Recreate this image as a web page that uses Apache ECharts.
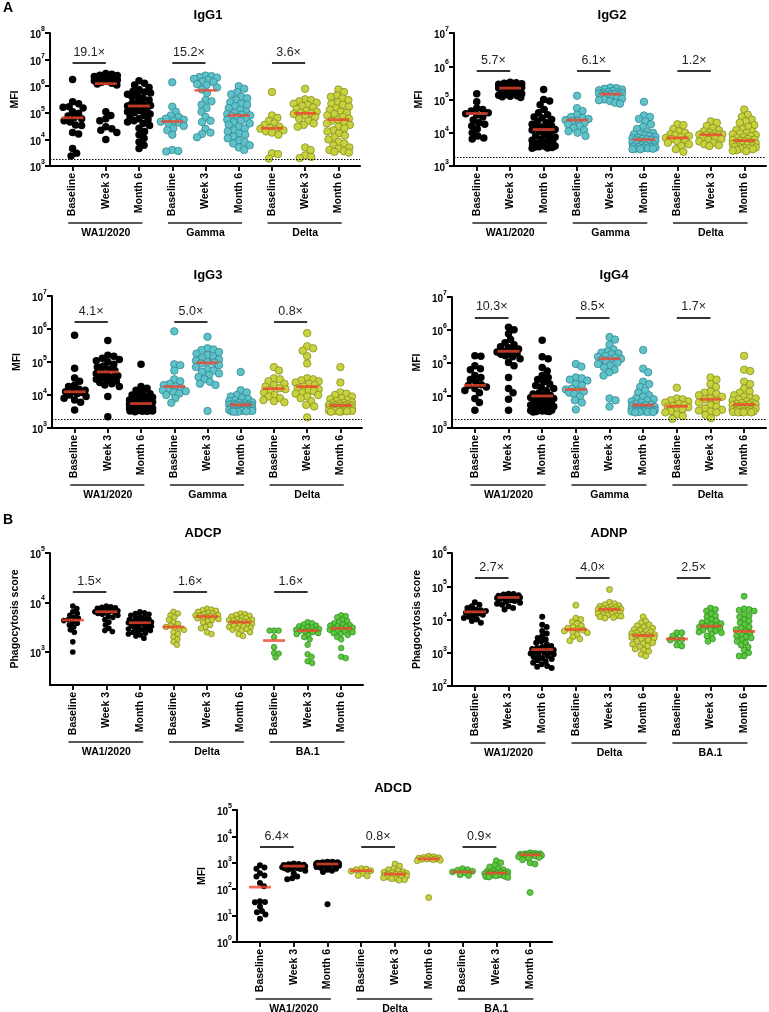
<!DOCTYPE html>
<html><head><meta charset="utf-8">
<script src="https://cdn.jsdelivr.net/npm/echarts@6/dist/echarts.min.js"></script>
<style>html,body{margin:0;padding:0;background:#fff}#c{width:769px;height:1012px}</style>
</head><body><div id="c"></div>
<script>
// ---------- categories ----------
const timepoints = ['Baseline', 'Week 3', 'Month 6'];
const igVariants = ['WA1/2020', 'Gamma', 'Delta'];
const fnVariants = ['WA1/2020', 'Delta', 'BA.1'];

// ---------- IgG1 ----------
const IgG1_WA1 = [
  [1.8e6, 2.6e5, 2.2e5, 1.7e5, 1.6e5, 1.5e5, 1.1e5, 9.5e4, 7.5e4, 6.5e4, 6e4, 5e4, 4.5e4, 3.5e4, 3.3e4, 1.8e4, 1.6e4, 4.5e3, 3e3, 2.4e3],
  [3e6, 2.8e6, 2.6e6, 2.5e6, 2.3e6, 2.2e6, 2e6, 1.9e6, 1.8e6, 1.7e6, 1.6e6, 1.5e6, 1.4e6, 1.3e6, 1.2e6, 1.1e6, 1.1e5, 8e4, 6e4, 5e4, 3e4, 2.5e4, 2.2e4, 1.8e4, 1e4],
  [1.6e6, 1.3e6, 1.1e6, 9e5, 7.5e5, 6.5e5, 6e5, 5.5e5, 5e5, 4.5e5, 4e5, 3.5e5, 3e5, 2.6e5, 2.3e5, 2e5, 1.9e5, 1.8e5, 1.7e5, 1.6e5, 1.4e5, 1.2e5, 1.1e5, 1e5, 9e4, 8e4, 7e4, 6e4, 5.5e4, 5e4, 4.5e4, 4e4, 3.3e4, 2.6e4, 2e4, 1.5e4, 1.1e4, 8e3, 6e3, 4.5e3]
];
const IgG1_Gamma = [
  [1.4e6, 1.7e5, 1.1e5, 8e4, 7e4, 6e4, 5.5e4, 5e4, 4.6e4, 4.2e4, 3.8e4, 3.2e4, 2.6e4, 2.2e4, 1.5e4, 4e3, 3.7e3, 3.5e3],
  [2.5e6, 2.4e6, 2.2e6, 2.1e6, 1.9e6, 1.7e6, 1.5e6, 1.4e6, 1.2e6, 1.1e6, 9e5, 7.5e5, 5.5e5, 3e5, 2.7e5, 2e5, 1.5e5, 1.1e5, 7e4, 5e4, 4.5e4, 2.5e4, 1.8e4, 1.6e4, 1.2e4],
  [1e6, 8e5, 6e5, 5e5, 4e5, 3.5e5, 3e5, 2.5e5, 2.2e5, 2e5, 1.8e5, 1.5e5, 1.3e5, 1.1e5, 1e5, 9e4, 8.5e4, 8e4, 7.5e4, 7e4, 6e4, 5.5e4, 5e4, 4.5e4, 4e4, 3.5e4, 3e4, 2.6e4, 2.2e4, 2e4, 1.7e4, 1.5e4, 1.3e4, 1.1e4, 9e3, 8e3, 7e3, 6e3, 5e3, 4e3]
];
const IgG1_Delta = [
  [6e5, 8e4, 6.5e4, 5e4, 4e4, 3.5e4, 3e4, 2.7e4, 2.5e4, 2.4e4, 2.2e4, 2e4, 1.8e4, 1.5e4, 3e3, 2.8e3, 1.9e3],
  [8e5, 3.2e5, 3e5, 2.7e5, 2.4e5, 2.2e5, 2e5, 1.8e5, 1.6e5, 1.4e5, 1.2e5, 1.1e5, 1e5, 9.5e4, 9e4, 8e4, 7e4, 6e4, 5e4, 4e4, 3.5e4, 3e4, 5e3, 4e3, 2.5e3, 2.2e3, 2e3],
  [7.5e5, 6e5, 4.5e5, 4e5, 3.5e5, 3e5, 2.5e5, 2.2e5, 2e5, 1.7e5, 1.5e5, 1.3e5, 1.1e5, 1e5, 9e4, 8e4, 7e4, 6e4, 5.5e4, 5e4, 4.5e4, 4e4, 3.5e4, 3e4, 2.6e4, 2.2e4, 2e4, 1.7e4, 1.4e4, 1.2e4, 1e4, 8e3, 7e3, 6e3, 5e3, 4.5e3, 4e3, 3.6e3, 3.4e3, 3.2e3]
];
const IgG1_median = [6.5e4, 1.25e6, 1.8e5, 4.7e4, 7e5, 8e4, 2.6e4, 9.5e4, 5.5e4];
const IgG1_fold = ['19.1×', '15.2×', '3.6×'];

// ---------- IgG2 ----------
const IgG2_WA1 = [
  [1.5e5, 8.5e4, 5.5e4, 5e4, 4.5e4, 4e4, 3.7e4, 3.4e4, 3e4, 2.4e4, 2e4, 1.8e4, 1.6e4, 1.3e4, 1e4, 8e3, 7e3, 6.5e3],
  [3.3e5, 3.2e5, 3.1e5, 3e5, 2.9e5, 2.7e5, 2.6e5, 2.5e5, 2.4e5, 2.3e5, 2.2e5, 2.2e5, 2.1e5, 2e5, 1.9e5, 1.8e5, 1.7e5, 1.6e5, 1.5e5, 1.4e5, 1.35e5, 1.3e5, 1.25e5, 1.2e5, 1.15e5],
  [2e5, 1e5, 9e4, 7e4, 5e4, 4e4, 3.5e4, 3e4, 2.8e4, 2.5e4, 2.2e4, 2e4, 1.8e4, 1.6e4, 1.5e4, 1.4e4, 1.3e4, 1.25e4, 1.2e4, 1.1e4, 1e4, 9e3, 8e3, 7.5e3, 7e3, 6.5e3, 6e3, 5.5e3, 5e3, 4.8e3, 4.6e3, 4.4e3, 4.2e3, 4e3, 3.9e3, 3.8e3, 3.7e3, 3.6e3, 3.5e3, 3.4e3]
];
const IgG2_Gamma = [
  [1.3e5, 5.5e4, 4.5e4, 3.5e4, 3e4, 2.8e4, 2.6e4, 2.4e4, 2.3e4, 2.2e4, 2e4, 1.8e4, 1.6e4, 1.4e4, 1.2e4, 1.1e4, 1e4, 8e3],
  [2.3e5, 2.2e5, 2.1e5, 2e5, 1.9e5, 1.8e5, 1.7e5, 1.65e5, 1.6e5, 1.55e5, 1.5e5, 1.45e5, 1.45e5, 1.4e5, 1.35e5, 1.3e5, 1.25e5, 1.2e5, 1.1e5, 1.05e5, 1e5, 9.5e4, 9e4, 8e4, 7.5e4],
  [8.5e4, 3.3e4, 3e4, 2.6e4, 2.2e4, 1.8e4, 1.5e4, 1.3e4, 1.1e4, 1e4, 9.5e3, 9e3, 8.5e3, 8e3, 7.5e3, 7e3, 6.8e3, 6.5e3, 6.3e3, 6.2e3, 6e3, 5.8e3, 5.5e3, 5.2e3, 5e3, 4.8e3, 4.6e3, 4.4e3, 4.2e3, 4e3, 3.9e3, 3.8e3, 3.7e3, 3.6e3, 3.5e3, 3.4e3, 3.3e3, 3.3e3, 3.2e3, 3.2e3]
];
const IgG2_Delta = [
  [1.8e4, 1.7e4, 1.3e4, 1.1e4, 1e4, 9e3, 8.5e3, 8e3, 7.5e3, 7e3, 6.5e3, 6e3, 5.5e3, 5e3, 4.5e3, 4e3, 3.2e3, 2.7e3],
  [2.2e4, 2e4, 1.6e4, 1.4e4, 1.2e4, 1.1e4, 1e4, 9.5e3, 9e3, 8.8e3, 8.6e3, 8.5e3, 8e3, 7.5e3, 7e3, 6.5e3, 6e3, 5.5e3, 5e3, 4.5e3, 4.2e3, 4e3],
  [5e4, 3.5e4, 3e4, 2.5e4, 2.2e4, 2e4, 1.7e4, 1.5e4, 1.3e4, 1.2e4, 1.1e4, 1e4, 9.5e3, 9e3, 8.5e3, 8e3, 7.5e3, 7e3, 6.5e3, 6.2e3, 6e3, 5.8e3, 5.5e3, 5.2e3, 5e3, 4.8e3, 4.6e3, 4.4e3, 4.2e3, 4e3, 3.9e3, 3.8e3, 3.6e3, 3.5e3, 3.4e3, 3.3e3, 3.2e3, 3e3, 2.9e3, 2.8e3]
];
const IgG2_median = [3.8e4, 2.2e5, 1.25e4, 2.4e4, 1.45e5, 6.2e3, 7e3, 8.7e3, 5.8e3];
const IgG2_fold = ['5.7×', '6.1×', '1.2×'];

// ---------- IgG3 ----------
const IgG3_WA1 = [
  [6.5e5, 6.5e4, 3.3e4, 2.6e4, 2e4, 1.8e4, 1.5e4, 1.4e4, 1.3e4, 1.25e4, 1.2e4, 1.1e4, 1e4, 9e3, 8e3, 7e3, 6e3, 3.5e3],
  [4.5e5, 1.6e5, 1.5e5, 1.3e5, 1.2e5, 1.1e5, 1e5, 8.5e4, 7.5e4, 7e4, 6e4, 5.5e4, 5e4, 4.5e4, 4e4, 3.8e4, 3.5e4, 3.2e4, 3e4, 2.8e4, 2.6e4, 2.4e4, 2.2e4, 2e4, 1.8e4, 9e3, 2.2e3],
  [8.5e4, 1.8e4, 1.6e4, 1.4e4, 1.2e4, 1.1e4, 1e4, 9.5e3, 9e3, 8.5e3, 8e3, 7.5e3, 7e3, 6.8e3, 6.5e3, 6.2e3, 6e3, 5.8e3, 5.6e3, 5.5e3, 5.4e3, 5.2e3, 5e3, 4.8e3, 4.6e3, 4.4e3, 4.2e3, 4e3, 3.9e3, 3.8e3, 3.7e3, 3.6e3, 3.5e3, 3.4e3, 3.4e3, 3.3e3, 3.3e3, 3.2e3, 3.2e3, 3.1e3]
];
const IgG3_Gamma = [
  [8.5e5, 8.5e4, 8e4, 5.5e4, 3e4, 2.6e4, 2.2e4, 2e4, 1.8e4, 1.6e4, 1.5e4, 1.4e4, 1.3e4, 1.2e4, 1.1e4, 1e4, 8e3, 5.8e3],
  [5.8e5, 2.6e5, 2.4e5, 2.3e5, 2e5, 1.8e5, 1.6e5, 1.4e5, 1.3e5, 1.2e5, 1.1e5, 1e5, 9.5e4, 9e4, 8e4, 7e4, 6e4, 5.5e4, 5e4, 4.5e4, 4e4, 3.5e4, 3e4, 2.5e4, 2.2e4, 2e4, 3.3e3],
  [5e4, 1.4e4, 1.2e4, 1e4, 9e3, 8e3, 7.5e3, 7e3, 6.5e3, 6e3, 5.8e3, 5.6e3, 5.4e3, 5.2e3, 5.1e3, 5e3, 4.9e3, 4.8e3, 4.7e3, 4.6e3, 4.5e3, 4.4e3, 4.3e3, 4.2e3, 4.1e3, 4e3, 3.9e3, 3.8e3, 3.7e3, 3.6e3, 3.5e3, 3.5e3, 3.4e3, 3.4e3, 3.3e3, 3.3e3, 3.2e3, 3.2e3, 3.1e3, 3.1e3]
];
const IgG3_Delta = [
  [7e4, 5.5e4, 3.2e4, 3e4, 2.6e4, 2.2e4, 2e4, 1.8e4, 1.6e4, 1.5e4, 1.4e4, 1.2e4, 1e4, 9e3, 8e3, 7e3, 6.5e3, 6e3],
  [7.5e5, 3e5, 2.6e5, 2.2e5, 1.5e5, 9e4, 3.2e4, 3e4, 2.8e4, 2.6e4, 2.4e4, 2.2e4, 2e4, 1.8e4, 1.6e4, 1.5e4, 1.4e4, 1.3e4, 1.2e4, 1.1e4, 1e4, 9e3, 8e3, 6.5e3, 5e3, 4.5e3, 2.1e3],
  [7e4, 2.4e4, 1.2e4, 1.1e4, 1e4, 9e3, 8e3, 7.5e3, 7e3, 6.5e3, 6e3, 5.8e3, 5.6e3, 5.4e3, 5.2e3, 5e3, 4.9e3, 4.8e3, 4.7e3, 4.6e3, 4.5e3, 4.4e3, 4.3e3, 4.2e3, 4.1e3, 4e3, 3.9e3, 3.8e3, 3.7e3, 3.6e3, 3.5e3, 3.5e3, 3.4e3, 3.4e3, 3.3e3, 3.3e3, 3.2e3, 3.2e3, 3.1e3, 3.1e3]
];
const IgG3_median = [1.25e4, 5e4, 5.5e3, 1.8e4, 9.5e4, 5e3, 1.55e4, 1.8e4, 4.8e3];
const IgG3_fold = ['4.1×', '5.0×', '0.8×'];

// ---------- IgG4 ----------
const IgG4_WA1 = [
  [1.6e5, 1.55e5, 8e4, 6.5e4, 6e4, 4e4, 3.5e4, 3e4, 2.5e4, 2.1e4, 2e4, 1.8e4, 1.6e4, 1.4e4, 1.2e4, 8e3, 6e3, 3.5e3],
  [1.2e6, 1e6, 7.5e5, 5e5, 4e5, 3.5e5, 3e5, 2.8e5, 2.6e5, 2.4e5, 2.2e5, 2.1e5, 2e5, 1.9e5, 1.8e5, 1.6e5, 1.5e5, 1.3e5, 1e5, 8e4, 3.5e4, 1.6e4, 1.2e4, 7.5e3, 3.5e3],
  [4.8e5, 1.5e5, 1.3e5, 7e4, 5.5e4, 4e4, 3.5e4, 3e4, 2.6e4, 2.2e4, 2e4, 1.8e4, 1.6e4, 1.4e4, 1.2e4, 1.1e4, 1e4, 9.5e3, 9e3, 8.5e3, 8e3, 7.5e3, 7e3, 6.5e3, 6e3, 5.5e3, 5e3, 4.8e3, 4.5e3, 4.2e3, 4e3, 3.8e3, 3.6e3, 3.5e3, 3.4e3, 3.3e3, 3.3e3, 3.2e3, 3.2e3, 3.1e3]
];
const IgG4_Gamma = [
  [9e4, 7.5e4, 3.5e4, 3.3e4, 3e4, 2.8e4, 2.2e4, 2e4, 1.6e4, 1.5e4, 1.4e4, 1.3e4, 1.2e4, 1.1e4, 9e3, 7e3, 6e3, 3.7e3],
  [6e5, 5e5, 3.5e5, 2.5e5, 2.2e5, 2e5, 1.9e5, 1.8e5, 1.6e5, 1.5e5, 1.4e5, 1.3e5, 1.25e5, 1.2e5, 1.1e5, 1e5, 9e4, 8e4, 7e4, 6e4, 5e4, 4e4, 8e3, 7e3, 4.5e3],
  [2.4e5, 6.5e4, 5e4, 2.6e4, 2.2e4, 1.8e4, 1.4e4, 1.2e4, 1e4, 9e3, 8e3, 7.5e3, 7e3, 6.5e3, 6e3, 5.5e3, 5.2e3, 5e3, 4.8e3, 4.6e3, 4.4e3, 4.2e3, 4e3, 3.9e3, 3.8e3, 3.7e3, 3.6e3, 3.5e3, 3.5e3, 3.4e3, 3.4e3, 3.3e3, 3.3e3, 3.2e3, 3.2e3, 3.2e3, 3.1e3, 3.1e3, 3.1e3, 3e3]
];
const IgG4_Delta = [
  [1.7e4, 8e3, 7.5e3, 7e3, 6.5e3, 6e3, 5.5e3, 5e3, 4.7e3, 4.5e3, 4.3e3, 4e3, 3.7e3, 3.3e3, 3e3, 2.6e3, 2.3e3, 1.9e3],
  [3.5e4, 3e4, 2.2e4, 1.8e4, 1.3e4, 1.2e4, 1.1e4, 1e4, 9e3, 8e3, 7.5e3, 7e3, 6e3, 5e3, 4.5e3, 4e3, 3.6e3, 3.4e3, 3.2e3, 3e3, 2.5e3, 2e3],
  [1.6e5, 6e4, 5.5e4, 2.6e4, 2.2e4, 1.6e4, 1.3e4, 1.2e4, 1e4, 9e3, 8.5e3, 8e3, 7.5e3, 7e3, 6.5e3, 6e3, 5.7e3, 5.5e3, 5.3e3, 5.2e3, 5e3, 4.8e3, 4.6e3, 4.4e3, 4.2e3, 4e3, 3.9e3, 3.8e3, 3.7e3, 3.6e3, 3.5e3, 3.4e3, 3.3e3, 3.2e3, 3.2e3, 3.1e3, 3.1e3, 3e3, 3e3, 3e3]
];
const IgG4_median = [2e4, 2.2e5, 9.5e3, 1.5e4, 1.3e5, 5e3, 4.6e3, 7.5e3, 5.2e3];
const IgG4_fold = ['10.3×', '8.5×', '1.7×'];

// ---------- ADCP ----------
const ADCP_WA1 = [
  [8.5e3, 7.5e3, 6.5e3, 6e3, 5.5e3, 5e3, 4.8e3, 4.5e3, 4.3e3, 4e3, 3.8e3, 3.5e3, 3.2e3, 2.8e3, 2.5e3, 1.6e3, 1e3],
  [8.5e3, 8.2e3, 8e3, 7.8e3, 7.6e3, 7.4e3, 7.2e3, 7e3, 6.8e3, 6.6e3, 6.5e3, 6.4e3, 6.3e3, 6.2e3, 6e3, 5.8e3, 5.5e3, 5.2e3, 5e3, 4.5e3, 4e3, 3.5e3, 3e3, 2.7e3, 2.6e3],
  [6.5e3, 6.2e3, 6e3, 5.8e3, 5.5e3, 5.2e3, 5e3, 4.8e3, 4.6e3, 4.5e3, 4.4e3, 4.3e3, 4.2e3, 4.1e3, 4e3, 3.9e3, 3.8e3, 3.7e3, 3.6e3, 3.5e3, 3.4e3, 3.3e3, 3.2e3, 3.1e3, 3e3, 2.9e3, 2.8e3, 2.7e3, 2.6e3, 2.5e3, 2.4e3, 2.3e3, 2.2e3, 2.1e3, 1.9e3]
];
const ADCP_Delta = [
  [6.5e3, 6e3, 5.5e3, 5e3, 4.5e3, 4e3, 3.7e3, 3.4e3, 3.2e3, 3.1e3, 3e3, 2.8e3, 2.5e3, 2.3e3, 2e3, 1.8e3, 1.6e3, 1.4e3],
  [7.5e3, 7.2e3, 7e3, 6.8e3, 6.5e3, 6.2e3, 6e3, 5.8e3, 5.6e3, 5.5e3, 5.4e3, 5.3e3, 5.2e3, 5.1e3, 5e3, 4.8e3, 4.6e3, 4.4e3, 4.2e3, 4e3, 3.5e3, 3.2e3, 3e3, 2.5e3, 2.3e3],
  [6e3, 5.8e3, 5.6e3, 5.4e3, 5.2e3, 5e3, 4.8e3, 4.6e3, 4.5e3, 4.4e3, 4.3e3, 4.2e3, 4.1e3, 4e3, 3.9e3, 3.8e3, 3.7e3, 3.6e3, 3.5e3, 3.4e3, 3.3e3, 3.2e3, 3.1e3, 3e3, 2.9e3, 2.8e3, 2.7e3, 2.5e3, 2.3e3, 2.1e3]
];
const ADCP_BA1 = [
  [2.7e3, 2.7e3, 2.7e3, 2e3, 1.25e3, 9.5e2, 9.3e2, 7.8e2],
  [4e3, 3.8e3, 3.6e3, 3.4e3, 3.3e3, 3.2e3, 3.1e3, 3e3, 2.9e3, 2.8e3, 2.75e3, 2.7e3, 2.65e3, 2.6e3, 2.5e3, 2.4e3, 2.3e3, 2.2e3, 2e3, 1.8e3, 1.4e3, 9e2, 8e2, 6.5e2, 6e2],
  [5.5e3, 5.3e3, 5e3, 4.5e3, 4.2e3, 4e3, 3.8e3, 3.6e3, 3.5e3, 3.4e3, 3.3e3, 3.2e3, 3.1e3, 3e3, 3e3, 2.9e3, 2.8e3, 2.7e3, 2.6e3, 2.5e3, 2.4e3, 2.3e3, 2.2e3, 2e3, 1.8e3, 1.2e3, 8e2, 7.5e2]
];
const ADCP_median = [4.4e3, 6.5e3, 3.9e3, 3.2e3, 5.2e3, 4e3, 1.7e3, 2.7e3, 3e3];
const ADCP_fold = ['1.5×', '1.6×', '1.6×'];

// ---------- ADNP ----------
const ADNP_WA1 = [
  [3.3e4, 2.8e4, 2.5e4, 2.2e4, 2e4, 1.9e4, 1.8e4, 1.7e4, 1.6e4, 1.5e4, 1.4e4, 1.3e4, 1.2e4, 1.1e4, 1e4, 9e3, 8e3],
  [6e4, 5.8e4, 5.6e4, 5.4e4, 5.2e4, 5e4, 4.9e4, 4.8e4, 4.7e4, 4.6e4, 4.5e4, 4.4e4, 4.3e4, 4.2e4, 4.1e4, 4e4, 3.8e4, 3.6e4, 3.4e4, 3.2e4, 3e4, 2.8e4, 2.5e4, 2.2e4, 2e4],
  [1.2e4, 7e3, 6e3, 4.5e3, 3.8e3, 3.2e3, 2.8e3, 2.5e3, 2.2e3, 2e3, 1.8e3, 1.6e3, 1.5e3, 1.4e3, 1.3e3, 1.25e3, 1.2e3, 1.15e3, 1.1e3, 1.05e3, 1e3, 9.5e2, 9e2, 8.5e2, 8e2, 7.5e2, 7e2, 6.5e2, 6e2, 5.5e2, 5e2, 4.5e2, 4e2, 3.8e2, 3.5e2]
];
const ADNP_Delta = [
  [2.7e4, 1.1e4, 1e4, 8.5e3, 7.5e3, 6.5e3, 6e3, 5.5e3, 5e3, 4.8e3, 4.5e3, 4.2e3, 4e3, 3.5e3, 3e3, 2.6e3, 2.3e3],
  [8e4, 3.3e4, 3e4, 2.8e4, 2.6e4, 2.5e4, 2.4e4, 2.3e4, 2.2e4, 2.1e4, 2.05e4, 2e4, 2e4, 1.95e4, 1.9e4, 1.85e4, 1.8e4, 1.7e4, 1.6e4, 1.5e4, 1.45e4, 1.4e4, 1.35e4, 1.3e4, 1.25e4, 1.2e4, 1.15e4, 1.1e4],
  [1.2e4, 9e3, 8e3, 7e3, 6.5e3, 6e3, 5.5e3, 5e3, 4.7e3, 4.5e3, 4.2e3, 4e3, 3.8e3, 3.6e3, 3.5e3, 3.4e3, 3.3e3, 3.2e3, 3.1e3, 3e3, 2.9e3, 2.8e3, 2.6e3, 2.4e3, 2.2e3, 2e3, 1.9e3, 1.8e3, 1.6e3, 1.5e3, 1.3e3, 1.2e3, 1.1e3, 9e2, 8e2]
];
const ADNP_BA1 = [
  [4e3, 4e3, 3.2e3, 2.6e3, 2.5e3, 2.4e3, 1.7e3, 1.6e3],
  [2.2e4, 2e4, 1.8e4, 1.5e4, 1.3e4, 1.2e4, 1e4, 9e3, 8.5e3, 8e3, 7.5e3, 7e3, 6.5e3, 6.3e3, 6e3, 5.5e3, 5e3, 4.8e3, 4.5e3, 4.2e3, 4e3, 3.6e3, 3.2e3, 2.6e3, 2.2e3],
  [5e4, 2.1e4, 2e4, 1.9e4, 1.8e4, 1.4e4, 1.3e4, 1.2e4, 1e4, 9e3, 8e3, 7e3, 6e3, 5.5e3, 5e3, 4.4e3, 4e3, 3.5e3, 3.2e3, 3e3, 2.8e3, 2.5e3, 2.2e3, 2e3, 1.7e3, 1.5e3, 1.2e3, 1e3, 8e2, 8e2]
];
const ADNP_median = [1.7e4, 4.6e4, 1.25e3, 5e3, 2e4, 3.3e3, 2.6e3, 6.3e3, 4.4e3];
const ADNP_fold = ['2.7×', '4.0×', '2.5×'];

// ---------- ADCD ----------
const ADCD_WA1 = [
  [8e2, 6.7e2, 5.9e2, 4e2, 3.3e2, 3e2, 1.7e2, 1.3e2, 3.5e1, 3.3e1, 3.2e1, 2.2e1, 1.5e1, 1.35e1, 1.1e1, 7.6],
  [9.5e2, 9e2, 8.8e2, 8.5e2, 8.3e2, 8e2, 7.8e2, 7.6e2, 7.5e2, 7.4e2, 7.3e2, 7.2e2, 7e2, 6.8e2, 6.6e2, 6.4e2, 6.2e2, 6e2, 5.8e2, 5.5e2, 5e2, 4e2, 3e2, 2.6e2, 2.4e2],
  [1.1e3, 1.1e3, 1.05e3, 1.05e3, 1e3, 1e3, 1e3, 9.8e2, 9.6e2, 9.5e2, 9.4e2, 9.3e2, 9.2e2, 9e2, 9e2, 8.8e2, 8.6e2, 8.5e2, 8.3e2, 8e2, 7.8e2, 7.5e2, 7e2, 6.5e2, 6e2, 5.5e2, 5e2, 4.5e2, 2.7e1]
];
const ADCD_Delta = [
  [6e2, 5.8e2, 5.5e2, 5e2, 4.8e2, 4e2, 3.3e2, 3.2e2],
  [9e2, 7.5e2, 6e2, 5.5e2, 5e2, 4.6e2, 4.4e2, 4.2e2, 4e2, 3.8e2, 3.7e2, 3.6e2, 3.5e2, 3.4e2, 3.3e2, 3.2e2, 3.1e2, 3e2, 2.9e2, 2.8e2, 2.7e2, 2.6e2, 2.5e2, 2.3e2, 2.2e2],
  [1.8e3, 1.7e3, 1.6e3, 1.55e3, 1.5e3, 1.45e3, 1.4e3, 1.4e3, 1.35e3, 1.3e3, 1.25e3, 1.2e3, 4.8e1]
];
const ADCD_BA1 = [
  [6e2, 5.5e2, 5.2e2, 4.8e2, 4.5e2, 4.3e2, 3.5e2, 3.3e2],
  [1.2e3, 1e3, 8e2, 7e2, 6e2, 5.5e2, 5e2, 4.8e2, 4.6e2, 4.4e2, 4.2e2, 4.1e2, 4e2, 3.9e2, 3.8e2, 3.7e2, 3.6e2, 3.5e2, 3.4e2, 3.3e2, 3.2e2, 3.1e2, 3e2, 2.9e2, 2.8e2],
  [2.4e3, 2.3e3, 2.2e3, 2.2e3, 2.1e3, 2.1e3, 2e3, 2e3, 2e3, 1.9e3, 1.9e3, 1.8e3, 1.8e3, 1.7e3, 1.6e3, 1.5e3, 1.3e3, 1e3, 9e2, 7.5e1]
];
const ADCD_median = [1.2e2, 7.5e2, 9e2, 5e2, 3.7e2, 1.4e3, 4.5e2, 4.1e2, 2e3];
const ADCD_fold = ['6.4×', '0.8×', '0.9×'];

// ---------- styles / layout ----------
const FONT = '"Liberation Sans", Arial, sans-serif';
const variantColors = {
  'WA1/2020': ['#000000', '#000000'],
  'Gamma': ['#5ec2ca', '#2c7f87'],
  'Delta': ['#c8d23e', '#7b851a'],
  'BA.1': ['#5cc83e', '#2b8720']
};
const XMIN = -0.68, XMAX = 8.65;

const panels = [
  { title: 'IgG1', yName: 'MFI', variants: igVariants, data: [IgG1_WA1, IgG1_Gamma, IgG1_Delta], med: IgG1_median, fold: IgG1_fold,
    grid: { left: 50, top: 33, width: 310, height: 133 }, yMin: 1e3, yMax: 1e8, barY: 7.5e6, lod: 1850, size: 7.5, tx: 208, ty: 15 },
  { title: 'IgG2', yName: 'MFI', variants: igVariants, data: [IgG2_WA1, IgG2_Gamma, IgG2_Delta], med: IgG2_median, fold: IgG2_fold,
    grid: { left: 454, top: 33, width: 312, height: 133 }, yMin: 1e3, yMax: 1e7, barY: 7.2e5, lod: 1850, size: 7.5, tx: 612, ty: 15 },
  { title: 'IgG3', yName: 'MFI', variants: igVariants, data: [IgG3_WA1, IgG3_Gamma, IgG3_Delta], med: IgG3_median, fold: IgG3_fold,
    grid: { left: 52, top: 296, width: 310, height: 132 }, yMin: 1e3, yMax: 1e7, barY: 1.65e6, lod: 1850, size: 7.5, tx: 208, ty: 275 },
  { title: 'IgG4', yName: 'MFI', variants: igVariants, data: [IgG4_WA1, IgG4_Gamma, IgG4_Delta], med: IgG4_median, fold: IgG4_fold,
    grid: { left: 452, top: 297, width: 314, height: 131 }, yMin: 1e3, yMax: 1e7, barY: 2.4e6, lod: 1850, size: 7.5, tx: 614, ty: 275 },
  { title: 'ADCP', yName: 'Phagocytosis score', variants: fnVariants, data: [ADCP_WA1, ADCP_Delta, ADCP_BA1], med: ADCP_median, fold: ADCP_fold,
    grid: { left: 50, top: 553, width: 313, height: 132 }, yMin: 215, yMax: 1e5, barY: 1.65e4, lod: null, size: 5.6, tx: 203, ty: 533 },
  { title: 'ADNP', yName: 'Phagocytosis score', variants: fnVariants, data: [ADNP_WA1, ADNP_Delta, ADNP_BA1], med: ADNP_median, fold: ADNP_fold,
    grid: { left: 452, top: 553, width: 314, height: 133 }, yMin: 1e2, yMax: 1e6, barY: 1.75e5, lod: null, size: 6, tx: 609, ty: 533 },
  { title: 'ADCD', yName: 'MFI', variants: fnVariants, data: [ADCD_WA1, ADCD_Delta, ADCD_BA1], med: ADCD_median, fold: ADCD_fold,
    grid: { left: 237, top: 810, width: 315, height: 132 }, yMin: 1, yMax: 1e5, barY: 4.1e3, lod: null, size: 6, tx: 393, ty: 788 }
];

// beeswarm offsets (pixel-space packing), returned in x-axis units
function swarm(vals, p) {
  const g = p.grid;
  const l0 = Math.log10(p.yMin), l1 = Math.log10(p.yMax);
  const ypx = v => g.height * (1 - (Math.log10(v) - l0) / (l1 - l0));
  const unit = g.width / (XMAX - XMIN);
  const D = p.size * 0.8, maxOff = 11.5, step = 0.5;
  const order = vals.map((v, i) => i).sort((a, b) => vals[b] - vals[a]);
  const placed = [], offs = new Array(vals.length);
  for (const i of order) {
    const y = ypx(vals[i]);
    let chosen = null, alt = 0, altScore = -1;
    for (let k = 0; k <= 2 * maxOff / step; k++) {
      const o = (k % 2 === 1 ? 1 : -1) * Math.ceil(k / 2) * step;
      let md = Infinity;
      for (const q of placed) { const d = Math.hypot(o - q.x, y - q.y); if (d < md) md = d; }
      if (md >= D) { chosen = o; break; }
      if (md > altScore) { altScore = md; alt = o; }
    }
    if (chosen === null) chosen = alt;
    placed.push({ x: chosen, y });
    offs[i] = chosen / unit;
  }
  return offs;
}

function supLabel(v) {
  const lg = Math.log10(v), e = Math.round(lg);
  if (Math.abs(lg - e) > 0.01) return '';
  return '{b|10}{s|' + e + '}';
}

const grids = [], xAxes = [], yAxes = [], series = [];
const catIdx = [0, 1, 2, 3, 4, 5, 6, 7, 8];

panels.forEach((p, gi) => {
  grids.push(Object.assign({ containLabel: false }, p.grid));
  const cats = [];
  p.variants.forEach(() => timepoints.forEach(t => cats.push(t)));
  xAxes.push({
    type: 'value', gridIndex: gi, min: XMIN, max: XMAX,
    splitLine: { show: false },
    axisLine: { show: true, onZero: false, lineStyle: { color: '#000', width: 2 } },
    axisTick: { show: true, customValues: catIdx, length: 5, lineStyle: { color: '#000', width: 1.8 } },
    axisLabel: { show: true, customValues: catIdx, rotate: 90, margin: 7, formatter: v => cats[Math.round(v)] || '',
      fontFamily: FONT, fontSize: 10.5, fontWeight: 'bold', color: '#000' }
  });
  const pows = [];
  for (let e = Math.ceil(Math.log10(p.yMin) - 1e-9); e <= Math.log10(p.yMax) + 1e-9; e++) pows.push(Math.pow(10, e));
  yAxes.push({
    type: 'log', logBase: 10, gridIndex: gi, min: p.yMin, max: p.yMax,
    splitLine: { show: false },
    name: p.yName, nameLocation: 'middle', nameGap: 29, nameRotate: 90,
    nameTextStyle: { fontFamily: FONT, fontSize: 10.5, fontWeight: 'bold', color: '#000' },
    axisLine: { show: true, onZero: false, lineStyle: { color: '#000', width: 2 } },
    axisTick: { show: true, customValues: pows, length: 5, lineStyle: { color: '#000', width: 2 } },
    axisLabel: { show: true, customValues: pows, margin: 5, formatter: supLabel,
      rich: {
        b: { fontFamily: FONT, fontSize: 10, fontWeight: 'bold', color: '#000', lineHeight: 15, verticalAlign: 'bottom' },
        s: { fontFamily: FONT, fontSize: 7, fontWeight: 'bold', color: '#000', lineHeight: 7, verticalAlign: 'top' }
      } }
  });

  p.variants.forEach((vn, vi) => {
    const pts = [];
    p.data[vi].forEach((vals, ti) => {
      const offs = swarm(vals, p);
      vals.forEach((v, k) => pts.push([vi * 3 + ti + offs[k], v]));
    });
    const col = variantColors[vn];
    const s = {
      type: 'scatter', xAxisIndex: gi, yAxisIndex: gi, data: pts, symbol: 'circle', symbolSize: p.size,
      itemStyle: { color: col[0], borderColor: col[1], borderWidth: vn === 'WA1/2020' ? 0 : 0.7, opacity: 1 },
      z: 2, silent: true, animation: false
    };
    if (vi === 0 && p.lod) {
      s.markLine = { silent: true, symbol: 'none', animation: false, label: { show: false },
        lineStyle: { color: '#000', width: 1, type: [1.5, 1.5] }, data: [{ yAxis: p.lod }] };
    }
    series.push(s);
  });

  // medians + fold-change bars
  series.push({
    type: 'scatter', xAxisIndex: gi, yAxisIndex: gi, symbol: 'rect', symbolSize: [22, 2.8],
    data: p.med.map((m, i) => [i, m]), itemStyle: { color: '#ef4630' }, z: 5, silent: true, animation: false,
    markLine: {
      silent: true, symbol: 'none', animation: false,
      lineStyle: { color: '#333', width: 2, type: 'solid' },
      label: { show: true, position: 'insideMiddleTop', distance: 4, formatter: '{b}',
        fontFamily: FONT, fontSize: 12.5, color: '#222', fontWeight: 'normal' },
      data: p.fold.map((f, vi) => [{ coord: [vi * 3, p.barY], name: f }, { coord: [vi * 3 + 1, p.barY] }])
    }
  });
});

const chart = echarts.init(document.getElementById('c'), null, { renderer: 'canvas' });
chart.setOption({ animation: false, backgroundColor: '#fff', grid: grids, xAxis: xAxes, yAxis: yAxes, series: series });

// titles, panel letters, group lines & labels
const gfx = [];
const txt = (text, x, y, font, align) => ({ type: 'text', silent: true,
  style: { text, x, y, font, fill: '#000', textAlign: align || 'center', textVerticalAlign: 'middle', align: align || 'center', verticalAlign: 'middle' } });
gfx.push(txt('A', 3, 8, 'bold 14px ' + FONT, 'left'));
gfx.push(txt('B', 3, 520, 'bold 14px ' + FONT, 'left'));
panels.forEach((p, gi) => {
  gfx.push(txt(p.title, p.tx, p.ty, 'bold 13px ' + FONT));
  const yb = p.grid.top + p.grid.height;
  p.variants.forEach((vn, vi) => {
    const x0 = chart.convertToPixel({ xAxisIndex: gi }, vi * 3 - 0.13);
    const x1 = chart.convertToPixel({ xAxisIndex: gi }, vi * 3 + 2 + 0.1);
    const xc = chart.convertToPixel({ xAxisIndex: gi }, vi * 3 + 1);
    gfx.push({ type: 'line', silent: true, shape: { x1: x0, y1: yb + 57, x2: x1, y2: yb + 57 }, style: { stroke: '#222', lineWidth: 1.5 } });
    gfx.push(txt(vn, xc, yb + 67, 'bold 10.5px ' + FONT));
  });
});
chart.setOption({ graphic: gfx });
</script></body></html>
